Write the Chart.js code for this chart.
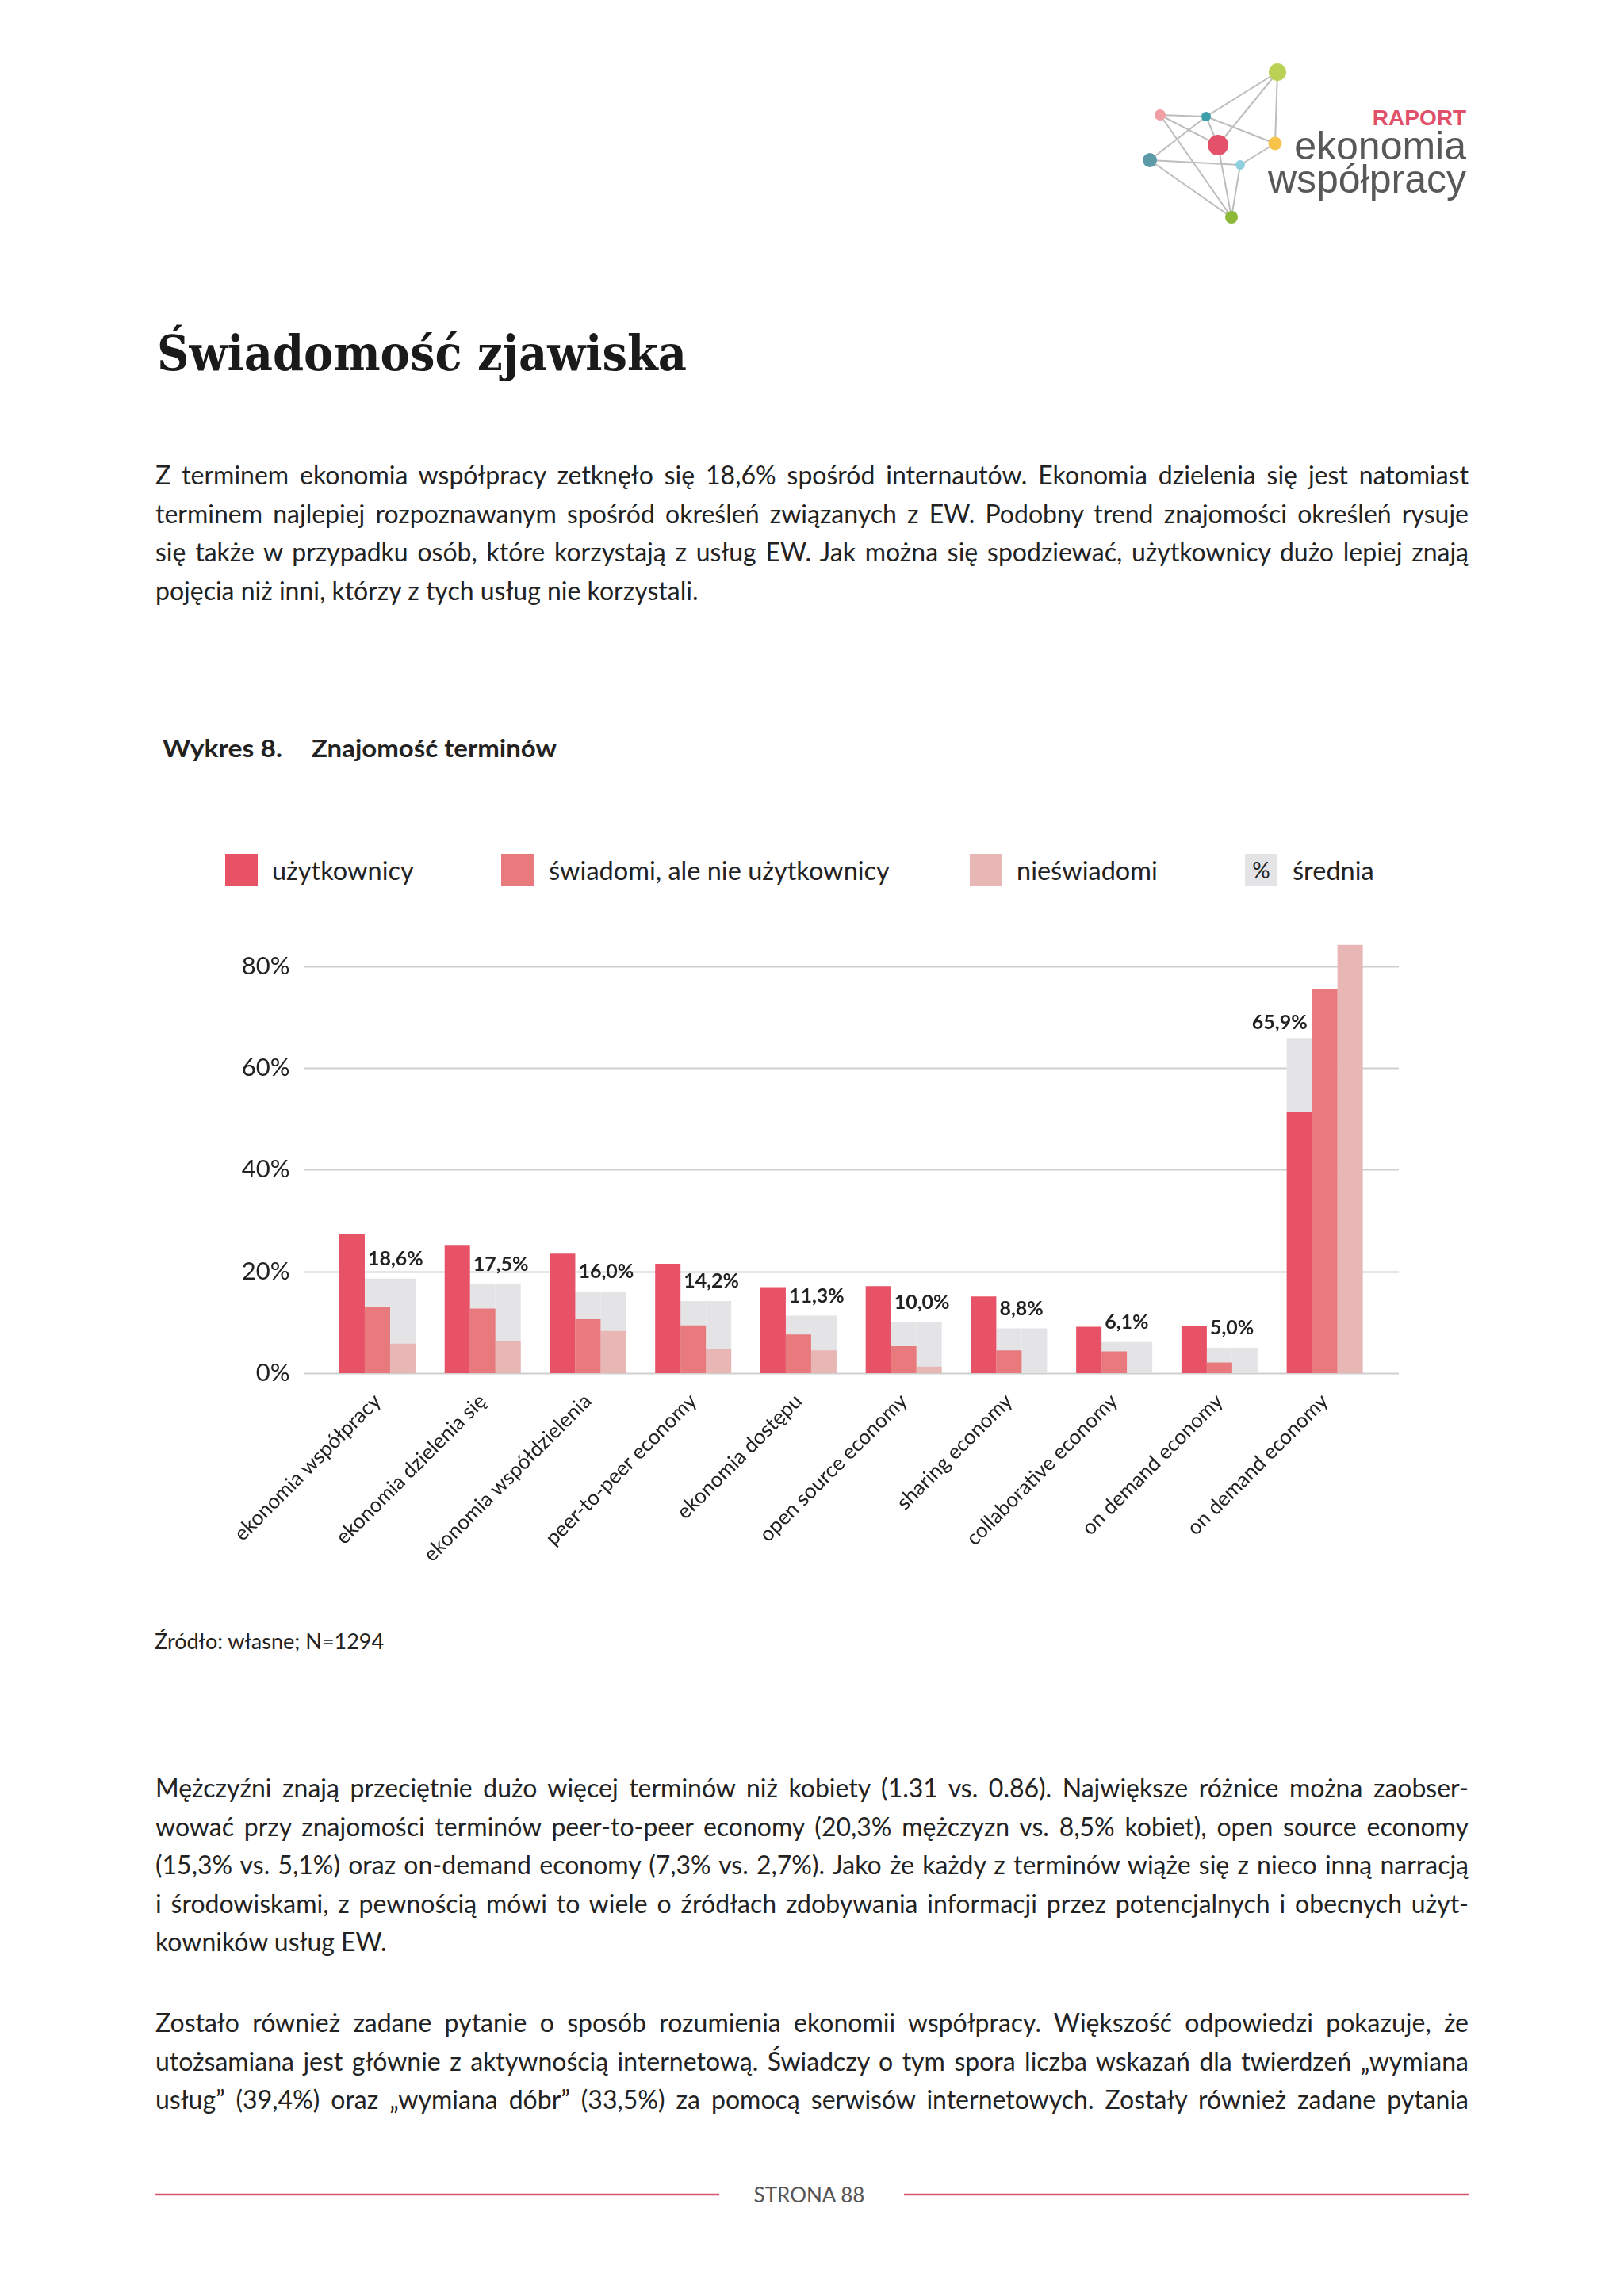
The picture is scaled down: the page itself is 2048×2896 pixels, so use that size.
<!DOCTYPE html>
<html lang="pl">
<head>
<meta charset="utf-8">
<title>Znajomość terminów</title>
<script src="https://cdn.jsdelivr.net/npm/chart.js@4.4.1/dist/chart.umd.min.js"></script>
<style>
  html, body { margin: 0; padding: 0; background: #fff; }
  body { width: 2048px; height: 2896px; position: relative; overflow: hidden; }
  #page { position: absolute; left: 0; top: 0; }
  #page text { font-family: Lato, "Noto Sans", sans-serif; fill: #222; }
  #page .body { font-size: 32px; }
  #page .leg { font-size: 32.5px; }
  #chart { position: absolute; left: 0; top: 1100px; }
</style>
</head>
<body>
<svg id="page" width="2048" height="2896" viewBox="0 0 2048 2896">
  <!-- logo -->
  <g stroke="#bdbdbd" stroke-width="2">
    <line x1="1463" y1="145" x2="1521" y2="147"/>
    <line x1="1463" y1="145" x2="1536" y2="183"/>
    <line x1="1463" y1="145" x2="1553" y2="274"/>
    <line x1="1521" y1="147" x2="1611" y2="91"/>
    <line x1="1521" y1="147" x2="1536" y2="183"/>
    <line x1="1521" y1="147" x2="1608" y2="181"/>
    <line x1="1521" y1="147" x2="1450" y2="202"/>
    <line x1="1611" y1="91" x2="1536" y2="183"/>
    <line x1="1611" y1="91" x2="1608" y2="181"/>
    <line x1="1608" y1="181" x2="1564" y2="208"/>
    <line x1="1450" y1="202" x2="1564" y2="208"/>
    <line x1="1450" y1="202" x2="1553" y2="274"/>
    <line x1="1536" y1="183" x2="1553" y2="274"/>
    <line x1="1564" y1="208" x2="1553" y2="274"/>
  </g>
  <circle cx="1611" cy="91" r="11" fill="#b9d155"/>
  <circle cx="1463" cy="145" r="7" fill="#f0a0a4"/>
  <circle cx="1521" cy="147" r="6" fill="#3a9fab"/>
  <circle cx="1536" cy="183" r="13" fill="#e4516a"/>
  <circle cx="1608" cy="181" r="8.5" fill="#f7c34a"/>
  <circle cx="1450" cy="202" r="9" fill="#5c9aa8"/>
  <circle cx="1564" cy="208" r="6" fill="#8ed0de"/>
  <circle cx="1553" cy="274" r="8" fill="#8db93a"/>
  <text x="1849" y="158" text-anchor="end" style="font-family:'Liberation Sans',Arial,sans-serif;font-weight:700;font-size:28px;fill:#e0506a">RAPORT</text>
  <text x="1849" y="201" text-anchor="end" style="font-family:'Liberation Sans',Arial,sans-serif;font-size:50px;fill:#58585a">ekonomia</text>
  <text x="1849" y="243" text-anchor="end" style="font-family:'Liberation Sans',Arial,sans-serif;font-size:50px;fill:#58585a">współpracy</text>

  <!-- heading -->
  <text x="198" y="467" textLength="668" lengthAdjust="spacingAndGlyphs" style="font-family:'DejaVu Serif',serif;font-weight:700;font-size:62px;fill:#1a1a1a">Świadomość zjawiska</text>

  <!-- paragraph 1 -->
  <text class="body" x="196" y="611" data-w="1656">Z terminem ekonomia współpracy zetknęło się 18,6% spośród internautów. Ekonomia dzielenia się jest natomiast</text>
  <text class="body" x="196" y="659.5" data-w="1656">terminem najlepiej rozpoznawanym spośród określeń związanych z EW. Podobny trend znajomości określeń rysuje</text>
  <text class="body" x="196" y="708" data-w="1656">się także w przypadku osób, które korzystają z usług EW. Jak można się spodziewać, użytkownicy dużo lepiej znają</text>
  <text class="body" x="196" y="756.5">pojęcia niż inni, którzy z tych usług nie korzystali.</text>

  <!-- chart title -->
  <text x="205" y="955" textLength="151" lengthAdjust="spacingAndGlyphs" style="font-weight:700;font-size:31px">Wykres 8.</text>
  <text x="393" y="955" textLength="309" lengthAdjust="spacingAndGlyphs" style="font-weight:700;font-size:31px">Znajomość terminów</text>

  <!-- legend -->
  <rect x="284" y="1077" width="41" height="41" fill="#e85267"/>
  <text class="leg" x="343" y="1110">użytkownicy</text>
  <rect x="632" y="1077" width="41" height="41" fill="#e87a7e"/>
  <text class="leg" x="692" y="1110">świadomi, ale nie użytkownicy</text>
  <rect x="1223" y="1077" width="41" height="41" fill="#e9b6b6"/>
  <text class="leg" x="1282" y="1110">nieświadomi</text>
  <rect x="1570" y="1077" width="41" height="41" fill="#e4e4e6"/>
  <text x="1590.5" y="1108" text-anchor="middle" style="font-size:28px">%</text>
  <text class="leg" x="1630" y="1110">średnia</text>

  <!-- source -->
  <text x="195" y="2080" style="font-size:27px">Źródło: własne; N=1294</text>

  <!-- paragraph 2 -->
  <text class="body" x="196" y="2267" data-w="1656">Mężczyźni znają przeciętnie dużo więcej terminów niż kobiety (1.31 vs. 0.86). Największe różnice można zaobser-</text>
  <text class="body" x="196" y="2315.5" data-w="1656">wować przy znajomości terminów peer-to-peer economy (20,3% mężczyzn vs. 8,5% kobiet), open source economy</text>
  <text class="body" x="196" y="2364" data-w="1656">(15,3% vs. 5,1%) oraz on-demand economy (7,3% vs. 2,7%). Jako że każdy z terminów wiąże się z nieco inną narracją</text>
  <text class="body" x="196" y="2412.5" data-w="1656">i środowiskami, z pewnością mówi to wiele o źródłach zdobywania informacji przez potencjalnych i obecnych użyt-</text>
  <text class="body" x="196" y="2461">kowników usług EW.</text>

  <!-- paragraph 3 -->
  <text class="body" x="196" y="2563" data-w="1656">Zostało również zadane pytanie o sposób rozumienia ekonomii współpracy. Większość odpowiedzi pokazuje, że</text>
  <text class="body" x="196" y="2611.5" data-w="1656">utożsamiana jest głównie z aktywnością internetową. Świadczy o tym spora liczba wskazań dla twierdzeń „wymiana</text>
  <text class="body" x="196" y="2660" data-w="1656">usług” (39,4%) oraz „wymiana dóbr” (33,5%) za pomocą serwisów internetowych. Zostały również zadane pytania</text>

  <!-- footer -->
  <line x1="195" y1="2768" x2="907" y2="2768" stroke="#d9556e" stroke-width="2.5"/>
  <line x1="1140" y1="2768" x2="1853" y2="2768" stroke="#d9556e" stroke-width="2.5"/>
  <text x="1020.5" y="2778" text-anchor="middle" style="font-size:26px;fill:#555">STRONA 88</text>
</svg>

<canvas id="chart" width="1800" height="960"></canvas>

<script>
// terms
const categories = [
  "ekonomia współpracy",
  "ekonomia dzielenia się",
  "ekonomia współdzielenia",
  "peer-to-peer economy",
  "ekonomia dostępu",
  "open source economy",
  "sharing economy",
  "collaborative economy",
  "on demand economy",
  "on demand economy",
];

// % who know the term, per group
const uzytkownicy = [27.3, 25.2, 23.5, 21.5, 16.9, 17.1, 15.1, 9.1, 9.2, 51.3];
const swiadomi = [13.1, 12.7, 10.6, 9.4, 7.6, 5.3, 4.5, 4.3, 2.1, 75.5];
const nieswiadomi = [5.8, 6.4, 8.3, 4.7, 4.5, 1.3, 0, 0, 0, 84.2];
const srednia = [18.6, 17.5, 16.0, 14.2, 11.3, 10.0, 8.8, 6.1, 5.0, 65.9];

const yTicks = [0, 20, 40, 60, 80];

// justify the body lines
function justify() {
  document.querySelectorAll("text[data-w]").forEach((t) => {
    t.style.wordSpacing = "0px";
    t.style.letterSpacing = "0px";
    const w = +t.dataset.w;
    let nat = t.getComputedTextLength();
    if (nat > w) {
      t.style.letterSpacing = (w - nat) / t.textContent.length + "px";
      nat = t.getComputedTextLength();
    }
    const spaces = (t.textContent.match(/ /g) || []).length;
    if (spaces) t.style.wordSpacing = (w - nat) / spaces + "px";
  });
}
justify();
if (document.fonts) document.fonts.ready.then(justify);

Chart.defaults.font.family = "Lato, 'Noto Sans', sans-serif";
Chart.defaults.color = "#222";

// where the medium bar covers the average, the average shows in the users' column
const inFirstSlot = srednia.map((v, i) => swiadomi[i] > v);

const fmt = (v) => v.toFixed(1).replace(".", ",") + "%";

const gridPlugin = {
  id: "grid",
  beforeDatasetsDraw(chart) {
    const { ctx, chartArea } = chart;
    const y = chart.scales.y;
    ctx.save();
    ctx.strokeStyle = "#cfcfcf";
    ctx.lineWidth = 2;
    yTicks.forEach((t) => {
      const py = Math.round(y.getPixelForValue(t)) + 0.5;
      ctx.beginPath();
      ctx.moveTo(chartArea.left - 26, py);
      ctx.lineTo(chartArea.right + 27, py);
      ctx.stroke();
    });
    ctx.restore();
  },
};

const avgLabels = {
  id: "avgLabels",
  afterDatasetsDraw(chart) {
    const { ctx } = chart;
    ctx.save();
    ctx.font = "700 25px Lato, 'Noto Sans', sans-serif";
    ctx.fillStyle = "#222";
    ctx.textBaseline = "alphabetic";
    srednia.forEach((v, i) => {
      if (inFirstSlot[i]) {
        const el = chart.getDatasetMeta(3).data[i];
        ctx.textAlign = "right";
        ctx.fillText(fmt(v), el.x + el.width / 2 - 6, el.y - 11);
      } else {
        const el = chart.getDatasetMeta(4).data[i];
        ctx.textAlign = "left";
        ctx.fillText(fmt(v), el.x - el.width / 2 + 4, el.y - 17);
      }
    });
    ctx.restore();
  },
};

const barOpts = { barPercentage: 1, categoryPercentage: 0.723, borderWidth: 0 };

new Chart(document.getElementById("chart"), {
  type: "bar",
  data: {
    labels: categories,
    datasets: [
      { label: "użytkownicy", data: uzytkownicy, backgroundColor: "#e85267", stack: "s1", order: 1, ...barOpts },
      { label: "świadomi, ale nie użytkownicy", data: swiadomi, backgroundColor: "#e87a7e", stack: "s2", order: 1, ...barOpts },
      { label: "nieświadomi", data: nieswiadomi, backgroundColor: "#e9b6b6", stack: "s3", order: 1, ...barOpts },
      { label: "średnia", data: srednia.map((v, i) => (inFirstSlot[i] ? v : null)), backgroundColor: "#e4e4e6", stack: "s1", order: 2, ...barOpts },
      { label: "średnia", data: srednia.map((v, i) => (inFirstSlot[i] ? null : v)), backgroundColor: "#e4e4e6", stack: "s2", order: 2, ...barOpts },
      { label: "średnia", data: srednia.map((v, i) => (inFirstSlot[i] ? null : v)), backgroundColor: "#e4e4e6", stack: "s3", order: 2, ...barOpts },
    ],
  },
  options: {
    responsive: false,
    animation: false,
    layout: { padding: { top: 47, right: 63, left: 0, bottom: 0 } },
    plugins: { legend: { display: false }, tooltip: { enabled: false } },
    scales: {
      x: {
        stacked: true,
        offset: true,
        grid: { display: false },
        border: { display: false },
        ticks: { minRotation: 45, maxRotation: 45, autoSkip: false, padding: 12, font: { size: 26 }, color: "#222" },
        afterFit(scale) { scale.height = 328; },
      },
      y: {
        stacked: false,
        min: 0,
        max: 90,
        grid: { display: false },
        border: { display: false },
        afterBuildTicks(scale) { scale.ticks = yTicks.map((v) => ({ value: v })); },
        ticks: { callback: (v) => v + "%", padding: 36, font: { size: 31 }, color: "#222" },
        afterFit(scale) { scale.width = 409.6; },
      },
    },
  },
  plugins: [gridPlugin, avgLabels],
});
</script>
</body>
</html>
